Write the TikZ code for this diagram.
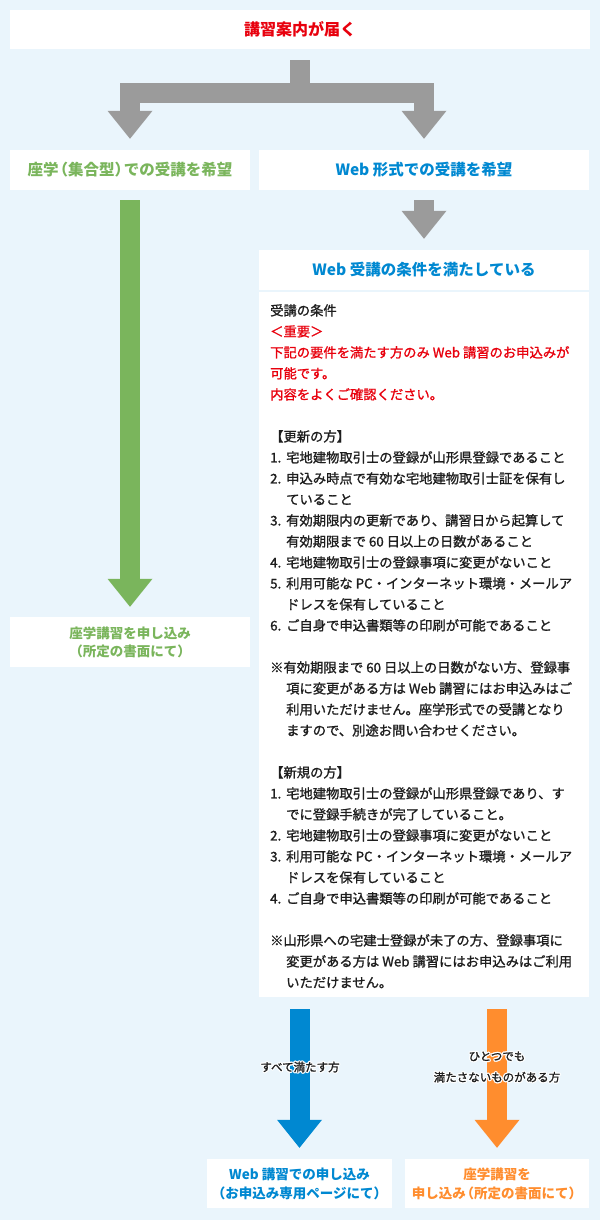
\documentclass[tikz,border=0pt]{standalone}
\usepackage{fontspec}
\setmainfont{Noto Sans CJK JP}
\newfontfamily\bodyfont{Noto Sans CJK JP}[FakeBold=1.2]
\usetikzlibrary{arrows.meta,calc}
\definecolor{bgblue}{HTML}{EAF5FC}
\definecolor{notered}{HTML}{E8000D}
\definecolor{classgreen}{HTML}{7AB55C}
\definecolor{webblue}{HTML}{0088D1}
\definecolor{paperorange}{HTML}{FF8D2E}
\definecolor{forkgray}{HTML}{9B9B9B}
\definecolor{bodyblack}{HTML}{1E1E1E}
\newcommand{\numitem}[1]{\makebox[16pt][l]{#1}}
\newcommand{\contline}{\hspace*{16pt}}

\begin{document}
\begin{tikzpicture}[x=1pt,y=-1pt,
   whitebox/.style={fill=white,inner sep=0pt,align=center},
   blockarrow/.style={line width=20pt,-{Triangle[width=45pt,length=28pt,line width=0pt]}},
   armlabel/.style={align=center,inner sep=0pt,font={\bodyfont\fontsize{11.5}{21}\selectfont}}]
   \useasboundingbox (0,0) rectangle (600,1220);
   \fill[bgblue] (0,0) rectangle (600,1220);
   % boxes
   \node[whitebox,minimum width=580pt,minimum height=39pt,text=notered,font={\bfseries\fontsize{16}{20}\selectfont}] (notice) at (300,29.5) {講習案内が届く};
   \node[whitebox,minimum width=240pt,minimum height=40pt,text=classgreen,font={\bfseries\fontsize{15.5}{20}\selectfont}] (classroom) at (130,170) {座学\kern-.4em（集合型）\kern-.4emでの受講を希望};
   \node[whitebox,minimum width=330pt,minimum height=40pt,text=webblue,font={\bfseries\fontsize{15.5}{20}\selectfont}] (webform) at (424,170) {Web 形式での受講を希望};
   \node[whitebox,minimum width=330pt,minimum height=40pt,text=webblue,font={\bfseries\fontsize{15.5}{20}\selectfont}] (webok) at (424,270) {Web 受講の条件を満たしている};
   \node[whitebox,minimum width=330pt,minimum height=705pt] (cond) at (424,644.5) {};
   \node[whitebox,minimum width=240pt,minimum height=50pt,text=classgreen,font={\bfseries\fontsize{13.5}{18}\selectfont}] (classapply) at (130,642) {座学講習を申し込み\\（所定の書面にて）};
   \node[whitebox,minimum width=185pt,minimum height=49pt,text=webblue,font={\bfseries\fontsize{13.5}{19}\selectfont}] (webapply) at (299.5,1183.5) {Web 講習での申し込み\\（お申込み専用ページにて）};
   \node[whitebox,minimum width=184pt,minimum height=49pt,text=paperorange,font={\bfseries\fontsize{13.5}{19}\selectfont}] (paperapply) at (497,1183.5) {座学講習を\\申し込み\kern-.4em（所定の書面にて）};
   % conditions
   \node[anchor=north west,inner sep=0pt,align=left,text=bodyblack,font={\bodyfont\fontsize{13.3}{21}\selectfont}] (condtext) at (270,304) {受講の条件\\
   {\color{notered}＜重要＞}\\
   {\color{notered}下記の要件を満たす方のみ Web 講習のお申込みが}\\
   {\color{notered}可能です。}\\
   {\color{notered}内容をよくご確認ください。}\\
   \mbox{}\\
   【更新の方】\\
   \numitem{1.}宅地建物取引士の登録が山形県登録であること\\
   \numitem{2.}申込み時点で有効な宅地建物取引士証を保有し\\
   \contline ていること\\
   \numitem{3.}有効期限内の更新であり、講習日から起算して\\
   \contline 有効期限まで 60 日以上の日数があること\\
   \numitem{4.}宅地建物取引士の登録事項に変更がないこと\\
   \numitem{5.}利用可能な PC・インターネット環境・メールア\\
   \contline ドレスを保有していること\\
   \numitem{6.}ご自身で申込書類等の印刷が可能であること\\
   \mbox{}\\
   ※有効期限まで 60 日以上の日数がない方、登録事\\
   \contline 項に変更がある方は Web 講習にはお申込みはご\\
   \contline 利用いただけません。座学形式での受講となり\\
   \contline ますので、別途お問い合わせください。\\
   \mbox{}\\
   【新規の方】\\
   \numitem{1.}宅地建物取引士の登録が山形県登録であり、す\\
   \contline でに登録手続きが完了していること。\\
   \numitem{2.}宅地建物取引士の登録事項に変更がないこと\\
   \numitem{3.}利用可能な PC・インターネット環境・メールア\\
   \contline ドレスを保有していること\\
   \numitem{4.}ご自身で申込書類等の印刷が可能であること\\
   \mbox{}\\
   ※山形県への宅建士登録が未了の方、登録事項に\\
   \contline 変更がある方は Web 講習にはお申込みはご利用\\
   \contline いただけません。};
   % arrows
   \coordinate (fork) at (300,93);
   \draw[forkgray,line width=20pt] ([yshift=-11pt]notice.south) -- (fork);
   \draw[forkgray,line width=20pt,{Triangle[width=45pt,length=28pt,line width=0pt]}-{Triangle[width=45pt,length=28pt,line width=0pt]}] ([yshift=11pt]classroom.north) |- (fork) -| ([yshift=11pt]webform.north);
   \draw[blockarrow,classgreen] ([yshift=-10pt]classroom.south) -- ([yshift=10pt]classapply.north);
   \draw[blockarrow,forkgray] ([yshift=-10pt]webform.south) -- ([yshift=11pt]webok.north);
   \draw[blockarrow,webblue] ($(cond.south -| webapply)+(0,12)$) -- ([yshift=11pt]webapply.north);
   \draw[blockarrow,paperorange] ($(cond.south -| paperapply)+(0,12)$) -- ([yshift=11pt]paperapply.north);
   % arrow labels
   \coordinate (webarm) at (300,1067);
   \coordinate (paperarm) at (497,1067);
   \foreach \hx/\hy in {1.3/0,-1.3/0,0/1.3,0/-1.3,.9/.9,-.9/.9,.9/-.9,-.9/-.9}{
      \node[armlabel,text=white] at ($(webarm)+(\hx,\hy)$) {すべて満たす方};
      \node[armlabel,text=white] at ($(paperarm)+(\hx,\hy)$) {ひとつでも\\満たさないものがある方};
   }
   \node[armlabel,text=bodyblack] (alllabel) at (webarm) {すべて満たす方};
   \node[armlabel,text=bodyblack] (somelabel) at (paperarm) {ひとつでも\\満たさないものがある方};
\end{tikzpicture}
\end{document}
